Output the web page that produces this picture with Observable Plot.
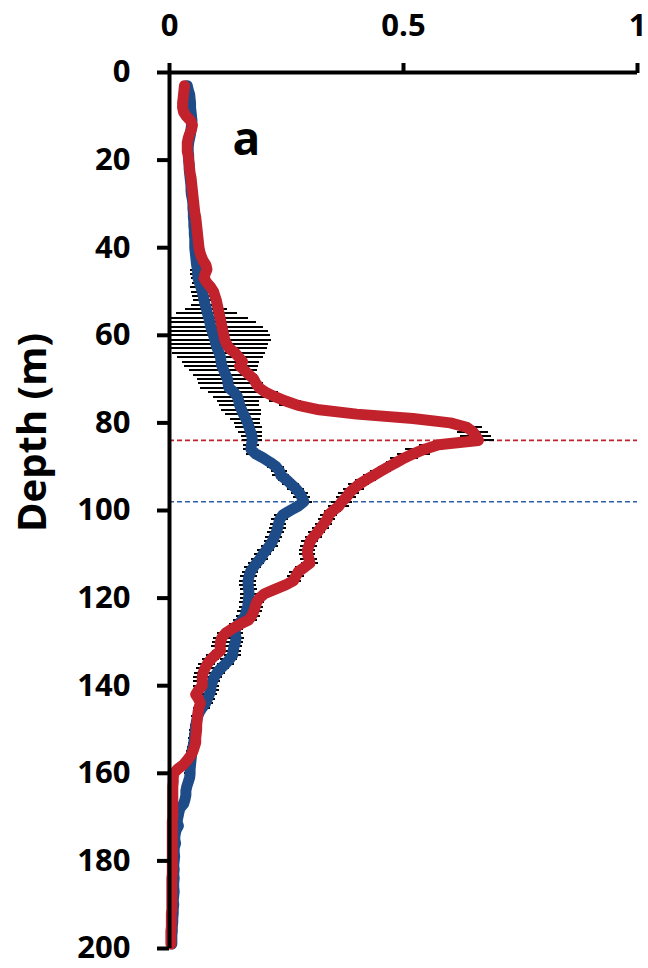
<!DOCTYPE html>
<html><head><meta charset="utf-8">
<script src="https://cdn.jsdelivr.net/npm/d3@7"></script>
<script src="https://cdn.jsdelivr.net/npm/@observablehq/plot@0.6"></script>
<style>body{margin:0;background:#fff;} svg{overflow:visible;}</style>
</head><body><div id="chart"></div>
<script>
// depth grid (m), 1 m resolution from 3 to 199
const depth = d3.range(3, 200);

const blue = [
0.038,0.040,0.043,0.044,0.045,0.045,0.046,0.047,0.048,0.047,
0.046,0.045,0.043,0.041,0.040,0.040,0.041,0.041,0.042,0.042,
0.043,0.044,0.045,0.046,0.046,0.047,0.049,0.050,0.050,0.051,
0.051,0.052,0.052,0.053,0.053,0.054,0.054,0.054,0.055,0.056,
0.057,0.058,0.060,0.060,0.061,0.064,0.067,0.070,0.072,0.074,
0.076,0.079,0.081,0.084,0.086,0.088,0.091,0.094,0.097,0.099,
0.102,0.106,0.109,0.110,0.112,0.116,0.120,0.124,0.125,0.127,
0.138,0.145,0.148,0.150,0.154,0.158,0.163,0.167,0.170,0.173,
0.176,0.177,0.175,0.174,0.183,0.200,0.215,0.228,0.235,0.238,
0.250,0.260,0.270,0.278,0.283,0.287,0.275,0.258,0.242,0.236,
0.233,0.231,0.228,0.224,0.220,0.214,0.207,0.200,0.194,0.186,
0.179,0.173,0.170,0.168,0.168,0.169,0.170,0.169,0.168,0.167,
0.164,0.162,0.155,0.147,0.141,0.140,0.142,0.141,0.138,0.136,
0.135,0.128,0.120,0.110,0.102,0.096,0.092,0.089,0.088,0.085,
0.081,0.077,0.070,0.064,0.060,0.058,0.056,0.055,0.054,0.053,
0.052,0.050,0.048,0.047,0.046,0.045,0.044,0.044,0.043,0.040,
0.037,0.035,0.035,0.033,0.030,0.022,0.020,0.018,0.016,0.019,
0.014,0.012,0.011,0.013,0.010,0.010,0.011,0.010,0.009,0.010,
0.009,0.010,0.009,0.009,0.010,0.009,0.008,0.009,0.008,0.008,
0.007,0.007,0.006,0.006,0.005,0.005,0.005
];

const blueErr = [
0.004,0.004,0.004,0.004,0.004,0.004,0.004,0.004,0.004,0.004,
0.004,0.004,0.004,0.004,0.004,0.004,0.004,0.004,0.004,0.004,
0.004,0.004,0.004,0.004,0.004,0.004,0.004,0.004,0.004,0.004,
0.004,0.004,0.004,0.004,0.004,0.004,0.004,0.004,0.008,0.008,
0.008,0.008,0.015,0.015,0.015,0.015,0.022,0.022,0.022,0.022,
0.030,0.045,0.065,0.085,0.100,0.113,0.120,0.122,0.120,0.113,
0.107,0.100,0.092,0.082,0.079,0.073,0.068,0.064,0.062,0.060,
0.055,0.050,0.045,0.043,0.043,0.038,0.032,0.028,0.028,0.025,
0.022,0.021,0.017,0.015,0.018,0.018,0.018,0.018,0.018,0.018,
0.018,0.018,0.018,0.018,0.018,0.018,0.018,0.018,0.018,0.018,
0.018,0.018,0.018,0.018,0.018,0.018,0.018,0.018,0.018,0.018,
0.018,0.018,0.018,0.018,0.018,0.018,0.018,0.018,0.018,0.018,
0.018,0.018,0.018,0.018,0.018,0.018,0.018,0.018,0.018,0.018,
0.018,0.018,0.018,0.018,0.018,0.018,0.018,0.018,0.018,0.018,
0.018,0.018,0.018,0.012,0.012,0.012,0.012,0.012,0.012,0.012,
0.012,0.012,0.012,0.012,0.012,0.012,0.012,0.012,0.004,0.004,
0.004,0.004,0.004,0.004,0.004,0.004,0.004,0.004,0.004,0.004,
0.004,0.004,0.004,0.004,0.004,0.004,0.004,0.004,0.004,0.004,
0.004,0.004,0.004,0.004,0.004,0.004,0.004,0.004,0.004,0.004,
0.004,0.004,0.004,0.004,0.004,0.004,0.004
];

const red = [
0.032,0.031,0.030,0.029,0.028,0.028,0.030,0.036,0.045,0.049,
0.047,0.043,0.040,0.038,0.038,0.038,0.040,0.041,0.042,0.043,
0.044,0.046,0.047,0.048,0.049,0.050,0.051,0.052,0.053,0.054,
0.056,0.057,0.058,0.059,0.060,0.061,0.062,0.063,0.065,0.068,
0.072,0.078,0.080,0.076,0.074,0.080,0.088,0.094,0.097,0.100,
0.102,0.104,0.106,0.108,0.110,0.112,0.114,0.116,0.118,0.122,
0.128,0.140,0.148,0.156,0.150,0.160,0.170,0.180,0.185,0.192,
0.205,0.225,0.248,0.275,0.320,0.400,0.520,0.600,0.635,0.648,
0.655,0.660,0.575,0.545,0.522,0.502,0.485,0.468,0.452,0.436,
0.420,0.405,0.394,0.384,0.378,0.368,0.362,0.350,0.340,0.337,
0.330,0.323,0.316,0.308,0.301,0.298,0.295,0.295,0.298,0.300,
0.288,0.275,0.270,0.265,0.248,0.225,0.203,0.192,0.186,0.183,
0.180,0.176,0.169,0.150,0.134,0.120,0.112,0.109,0.108,0.109,
0.098,0.088,0.081,0.076,0.072,0.070,0.070,0.070,0.062,0.056,
0.062,0.066,0.063,0.061,0.060,0.059,0.058,0.058,0.057,0.056,
0.056,0.053,0.050,0.045,0.038,0.030,0.018,0.009,0.008,0.008,
0.007,0.007,0.007,0.007,0.007,0.007,0.007,0.007,0.006,0.006,
0.006,0.006,0.006,0.006,0.006,0.006,0.006,0.006,0.006,0.006,
0.006,0.005,0.005,0.005,0.005,0.005,0.005,0.005,0.005,0.004,
0.004,0.004,0.004,0.003,0.003,0.003,0.003
];

const redErr = [
0.004,0.004,0.004,0.004,0.004,0.004,0.004,0.004,0.004,0.004,
0.004,0.004,0.004,0.004,0.004,0.004,0.004,0.004,0.004,0.004,
0.004,0.004,0.004,0.004,0.004,0.004,0.004,0.004,0.004,0.004,
0.004,0.004,0.004,0.004,0.004,0.004,0.004,0.004,0.004,0.004,
0.004,0.004,0.004,0.004,0.004,0.004,0.004,0.004,0.004,0.004,
0.004,0.004,0.004,0.004,0.004,0.004,0.004,0.004,0.008,0.008,
0.008,0.008,0.008,0.008,0.008,0.008,0.008,0.008,0.015,0.020,
0.028,0.030,0.035,0.040,0.040,0.035,0.035,0.035,0.033,0.033,
0.034,0.034,0.040,0.040,0.035,0.030,0.022,0.022,0.022,0.022,
0.022,0.022,0.022,0.022,0.022,0.022,0.022,0.018,0.018,0.018,
0.018,0.018,0.018,0.018,0.018,0.018,0.018,0.018,0.018,0.018,
0.018,0.018,0.018,0.018,0.018,0.018,0.018,0.018,0.018,0.018,
0.018,0.018,0.018,0.018,0.018,0.018,0.018,0.018,0.018,0.018,
0.018,0.018,0.018,0.018,0.018,0.018,0.018,0.018,0.010,0.010,
0.010,0.010,0.010,0.010,0.010,0.010,0.010,0.010,0.010,0.010,
0.010,0.010,0.010,0.010,0.010,0.010,0.003,0.003,0.003,0.003,
0.003,0.003,0.003,0.003,0.003,0.003,0.003,0.003,0.003,0.003,
0.003,0.003,0.003,0.003,0.003,0.003,0.003,0.003,0.003,0.003,
0.003,0.003,0.003,0.003,0.003,0.003,0.003,0.003,0.003,0.003,
0.003,0.003,0.003,0.003,0.003,0.003,0.003
];

const xTicks = [0, 0.5, 1];
const yTicks = [0, 20, 40, 60, 80, 100, 120, 140, 160, 180, 200];
const yLabel = "Depth (m)";
const panelLabel = "a";

const BLUE = "#1d4c88";
const RED = "#c1222c";
const FONT = "'Open Sans', 'DejaVu Sans', sans-serif";

const rows = depth.map((d, i) => ({depth: d, blue: blue[i], blueErr: blueErr[i], red: red[i], redErr: redErr[i]}));
const bluePeak = rows[d3.maxIndex(rows, r => r.blue)].depth;
const redPeak = rows[d3.maxIndex(rows, r => r.red)].depth;

const chart = Plot.plot({
  width: 648,
  height: 968,
  marginLeft: 169,
  marginRight: 11,
  marginTop: 72,
  marginBottom: 20,
  style: {fontFamily: FONT, background: "white", color: "black", overflow: "visible"},
  x: {domain: [0, 1]},
  y: {domain: [0, 200], reverse: true},
  marks: [
    Plot.ruleY([redPeak], {stroke: RED, strokeWidth: 1.6, strokeDasharray: "5,3"}),
    Plot.ruleY([bluePeak], {stroke: "#2f5f9f", strokeWidth: 1.6, strokeDasharray: "5,3"}),
    Plot.ruleY(rows, {y: "depth", x1: r => Math.max(0, r.blue - r.blueErr), x2: r => r.blue + r.blueErr, stroke: "black", strokeWidth: 2, shapeRendering: "crispEdges"}),
    Plot.ruleY(rows, {y: "depth", x1: r => Math.max(0, r.red - r.redErr), x2: r => r.red + r.redErr, stroke: "black", strokeWidth: 2, shapeRendering: "crispEdges"}),
    Plot.line(rows, {x: "blue", y: "depth", stroke: BLUE, strokeWidth: 11, strokeLinejoin: "round", strokeLinecap: "round"}),
    Plot.line(rows, {x: "red", y: "depth", stroke: RED, strokeWidth: 11, strokeLinejoin: "round", strokeLinecap: "round"}),
    Plot.ruleX([0], {stroke: "black", strokeWidth: 4}),
    Plot.ruleY([0], {stroke: "black", strokeWidth: 4}),
    Plot.axisX(xTicks, {anchor: "top", tickSize: 10, tickPadding: 27, strokeWidth: 4, fontSize: 31, fontWeight: 700, tickFormat: d => String(d), label: null}),
    Plot.axisY(yTicks, {anchor: "left", tickSize: 12, tickPadding: 27, strokeWidth: 4, fontSize: 31, fontWeight: 700, tickFormat: d => String(d), label: null}),
    Plot.text([yLabel], {frameAnchor: "left", textAnchor: "middle", lineAnchor: "middle", rotate: -90, dx: -136, dy: -78, fontSize: 40, fontWeight: 700}),
    Plot.text([panelLabel], {frameAnchor: "top-left", textAnchor: "middle", lineAnchor: "middle", dx: 77, dy: 68, fontSize: 46, fontWeight: 700})
  ]
});
document.getElementById("chart").appendChild(chart);
</script>
</body></html>
